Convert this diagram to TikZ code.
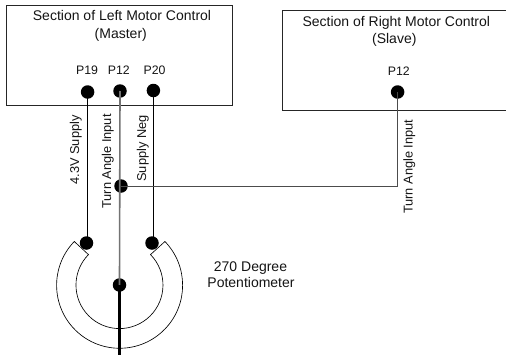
\documentclass[tikz,border=0pt]{standalone}
\usepackage{fontspec}
\setmainfont{Liberation Sans}
\tikzset{
  x=1pt,y=-1pt,
  lbl/.style={inner sep=0pt,anchor=base,font=\fontsize{14}{16}\selectfont,text=black!92},
  plbl/.style={lbl,font=\fontsize{12.3}{14}\selectfont},
  vlbl/.style={lbl,rotate=90,font=\fontsize{12.8}{14}\selectfont},
  pin/.style={circle,fill=black,inner sep=0pt,minimum size=13.5pt},
  box/.style={draw=black!85,line width=1pt},
  wire/.style={draw=black,line width=1pt},
  gwire/.style={draw=black!55,line width=1.6pt},
  hwire/.style={draw=black!70,line width=1pt},
  potarc/.style={draw=black,line width=0.65pt},
  wiper/.style={draw=black,line width=2.8pt}
}
\begin{document}
\begin{tikzpicture}
\useasboundingbox (0,0) rectangle (506,356);
\clip (0,0) rectangle (506,356);
% boxes
\draw[box] (6,5) rectangle (232,105);
\draw[box] (506,10) -- (282,10) -- (282,110) -- (506,110);
% texts
\node[lbl] (t1) at (122,20.8) {Section of Left Motor Control};
\node[lbl] (t2) at (120.8,38.8) {(Master)};
\node[plbl] (p19t) at (87,74.8) {P19};
\node[plbl] (p12t) at (118.8,74.8) {P12};
\node[plbl] (p20t) at (154.5,74.8) {P20};
\node[lbl] (t3) at (396.3,26) {Section of Right Motor Control};
\node[lbl] (t4) at (394.3,43.3) {(Slave)};
\node[plbl] (p12rt) at (398.8,75) {P12};
\node[vlbl] (l1) at (79,150) {4.3V Supply};
\node[vlbl] (l2) at (111,161.5) {Turn Angle Input};
\node[vlbl] (l3) at (146,148.5) {Supply Neg};
\node[vlbl] (l4) at (412.5,166.7) {Turn Angle Input};
\node[lbl] (t5) at (250.5,271) {270 Degree};
\node[lbl] (t6) at (251,287.3) {Potentiometer};
% pins
\node[pin] (a) at (87.6,92) {};
\node[pin] (b) at (120,91) {};
\node[pin] (c) at (153.4,90.5) {};
\node[pin] (d) at (397.6,92) {};
\node[pin] (j) at (121,186) {};
\node[pin] (e) at (86.5,243) {};
\node[pin] (f) at (152,243) {};
\node[pin] (w) at (119.5,285) {};
\coordinate (tip) at (119.5,355);
% wires
\draw[wire] (a.center) -- (a.center |- e.center);
\draw[wire] (c.center) -- (c.center |- f.center);
\draw[hwire] (d.center) |- (j.center);
\draw[gwire] (b.center) -- (w.center);
% potentiometer
\draw[potarc] (74.3,241.5)
  arc[start angle=-136,delta angle=-268,radius=63]
  -- (150.5,254.6)
  arc[start angle=-44.5,delta angle=269,radius=43.5]
  -- cycle;
\draw[wiper] (w.center) -- (tip);
\end{tikzpicture}
\end{document}
